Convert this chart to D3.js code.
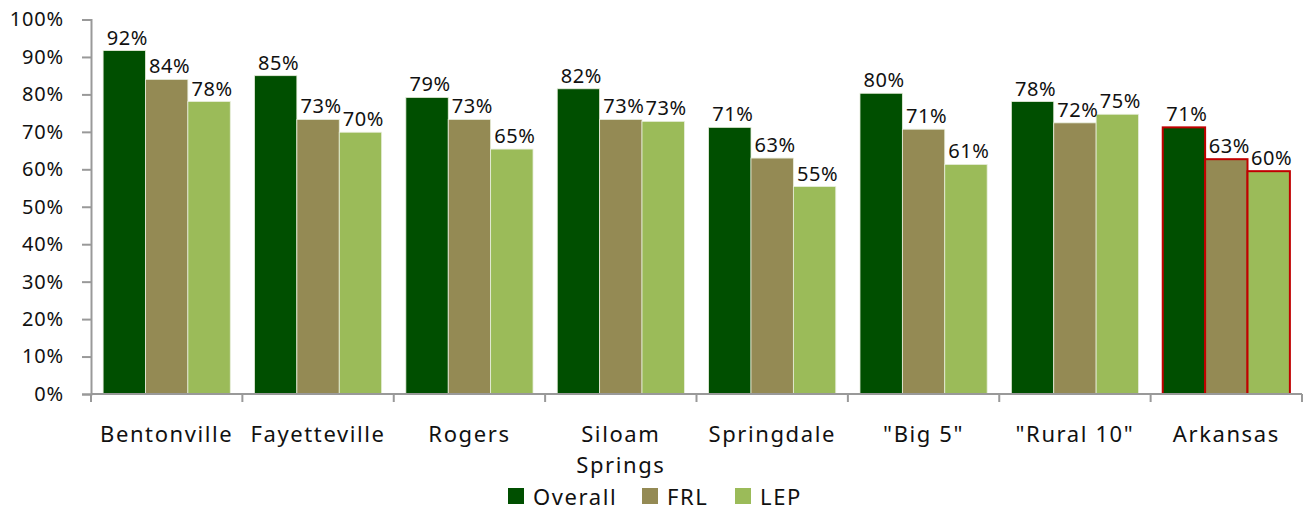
<!DOCTYPE html>
<html>
<head>
<meta charset="utf-8">
<script src="https://cdn.jsdelivr.net/npm/d3@7"></script>
<style>
  body { margin: 0; background: #fff; }
  text { font-family: "Noto Sans", "Open Sans", sans-serif; fill: #111; }
</style>
</head>
<body>
<div id="chart"></div>
<script>
// chart data
const categories = ["Bentonville", "Fayetteville", "Rogers", "Siloam Springs", "Springdale", "\"Big 5\"", "\"Rural 10\"", "Arkansas"];
const seriesNames = ["Overall", "FRL", "LEP"];
const overall = [91.7, 85.0, 79.2, 81.5, 71.2, 80.3, 78.1, 71.2];
const frl = [84.0, 73.3, 73.3, 73.3, 63.0, 70.7, 72.4, 62.7];
const lep = [78.1, 69.9, 65.4, 72.8, 55.4, 61.3, 74.7, 59.5];
const yTicks = [0, 10, 20, 30, 40, 50, 60, 70, 80, 90, 100];

const colors = { Overall: "#004f00", FRL: "#948a54", LEP: "#9bbb59" };
const highlight = "Arkansas";

const width = 1308, height = 511;
const margin = { top: 19.5, right: 6, bottom: 117, left: 91 };

const svg = d3.select("#chart").append("svg")
  .attr("width", width)
  .attr("height", height);

const plotW = width - margin.left - margin.right;
const plotH = height - margin.top - margin.bottom;

const g = svg.append("g")
  .attr("transform", `translate(${margin.left},${margin.top})`);

const x0 = d3.scaleBand()
  .domain(categories)
  .range([0, plotW])
  .paddingInner(0.16)
  .paddingOuter(0.08);

const x1 = d3.scaleBand()
  .domain(seriesNames)
  .range([0, x0.bandwidth()]);

const y = d3.scaleLinear().domain([0, 100]).range([plotH, 0]);

const rows = categories.map((c, i) => ({
  cat: c,
  vals: [
    { key: "Overall", v: overall[i] },
    { key: "FRL", v: frl[i] },
    { key: "LEP", v: lep[i] }
  ]
}));

// y axis
const yAxis = g.append("g")
  .call(d3.axisLeft(y).tickValues(yTicks).tickSize(9).tickFormat(d => d + "%"));
yAxis.select(".domain").attr("stroke", "#999").attr("stroke-width", 2);
yAxis.selectAll(".tick line").attr("stroke", "#999").attr("stroke-width", 2);
yAxis.selectAll(".tick text")
  .attr("x", -27)
  .style("font-size", "20px")
  .style("letter-spacing", "0.8px")
  .attr("fill", "#111");

// bars
const groups = g.selectAll(".grp")
  .data(rows)
  .join("g")
  .attr("class", "grp")
  .attr("transform", d => `translate(${x0(d.cat)},0)`);

groups.selectAll("rect")
  .data(d => d.vals.map(v => ({ ...v, cat: d.cat })))
  .join("rect")
  .attr("x", d => x1(d.key))
  .attr("y", d => y(d.v))
  .attr("width", x1.bandwidth())
  .attr("height", d => plotH - y(d.v))
  .attr("fill", d => colors[d.key])
  .attr("stroke", d => d.cat === highlight ? "#c00000" : "#e8eedc")
  .attr("stroke-width", d => d.cat === highlight ? 2 : 0.8);

groups.selectAll(".lbl")
  .data(d => d.vals)
  .join("text")
  .attr("class", "lbl")
  .attr("x", d => x1(d.key) + x1.bandwidth() / 2 + 3)
  .attr("y", d => y(d.v) - 6)
  .attr("text-anchor", "middle")
  .style("font-size", "20px")
  .style("letter-spacing", "0.6px")
  .text(d => Math.round(d.v) + "%");

// x axis
const xAxis = g.append("g").attr("transform", `translate(0,${plotH})`);
xAxis.append("line")
  .attr("x1", 0).attr("x2", plotW)
  .attr("stroke", "#999").attr("stroke-width", 2);
const bounds = d3.range(categories.length + 1).map(i => i * x0.step());
xAxis.selectAll(".xt")
  .data(bounds)
  .join("line")
  .attr("class", "xt")
  .attr("x1", d => Math.min(d, plotW)).attr("x2", d => Math.min(d, plotW))
  .attr("y1", 0).attr("y2", 8)
  .attr("stroke", "#999").attr("stroke-width", 2);

xAxis.selectAll(".xl")
  .data(categories)
  .join("text")
  .attr("class", "xl")
  .attr("text-anchor", "middle")
  .attr("transform", d => `translate(${x0(d) + x0.bandwidth() / 2},48)`)
  .style("font-size", "22px")
  .style("letter-spacing", "1.6px")
  .each(function (d) {
    const words = d === "Siloam Springs" ? ["Siloam", "Springs"] : [d];
    d3.select(this).selectAll("tspan")
      .data(words)
      .join("tspan")
      .attr("x", 0)
      .attr("dy", (w, i) => i === 0 ? 0 : 31)
      .text(w => w);
  });

// legend
const legendX = [508, 642, 735];
const legend = svg.append("g");
seriesNames.forEach((s, i) => {
  legend.append("rect")
    .attr("x", legendX[i]).attr("y", 488)
    .attr("width", 16).attr("height", 16)
    .attr("fill", colors[s]);
  legend.append("text")
    .attr("x", legendX[i] + 25).attr("y", 505)
    .style("font-size", "22px")
    .style("letter-spacing", "1.6px")
    .text(s);
});
</script>
</body>
</html>
